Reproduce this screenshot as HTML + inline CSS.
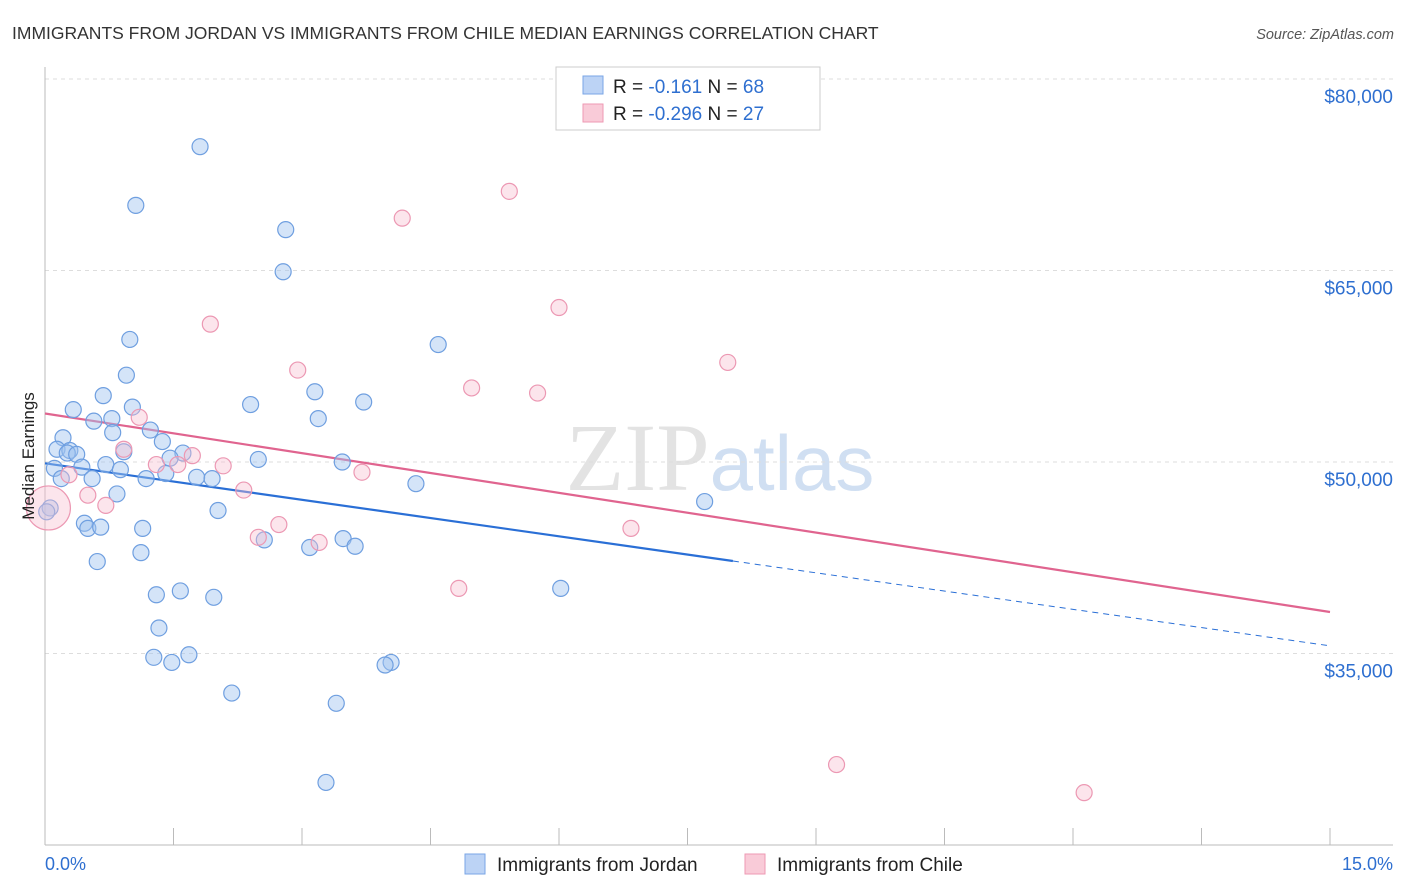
<!DOCTYPE html>
<html><head><meta charset="utf-8"><style>
body{margin:0;background:#fff;font-family:"Liberation Sans",sans-serif;}
</style></head><body>
<svg id="chart" width="1406" height="892" xmlns="http://www.w3.org/2000/svg" style="display:block">
<text x="12" y="39" font-size="17.5" fill="#333">IMMIGRANTS FROM JORDAN VS IMMIGRANTS FROM CHILE MEDIAN EARNINGS CORRELATION CHART</text>
<text x="1394" y="39" font-size="14.5" fill="#555" text-anchor="end" font-style="italic">Source: ZipAtlas.com</text>
<text x="720" y="490" font-size="96" text-anchor="middle" font-family="Liberation Serif, serif" fill="#ddd" opacity="0.8">ZIP<tspan fill="#c5d8f0" font-family="Liberation Sans, sans-serif" font-size="78">atlas</tspan></text>
<g id="grid"></g><g id="axes"></g><g id="lines"></g><g id="pts"></g>
<text transform="translate(34,456) rotate(-90)" font-size="17" fill="#222" text-anchor="middle">Median Earnings</text>
<g>
<rect x="556" y="67" width="264" height="63" fill="#fff" stroke="#ccc"/>
<rect x="583" y="76" width="20" height="18" fill="#bcd3f5" stroke="#7aa6e6"/>
<rect x="583" y="104" width="20" height="18" fill="#f9cbd8" stroke="#ee99b3"/>
<text x="613" y="93" font-size="19" fill="#222">R =  <tspan fill="#2e6fd0">-0.161</tspan>    N = <tspan fill="#2e6fd0">68</tspan></text>
<text x="613" y="120" font-size="19" fill="#222">R = <tspan fill="#2e6fd0">-0.296</tspan>    N = <tspan fill="#2e6fd0">27</tspan></text>
</g>
<g>
<rect x="465" y="854" width="20" height="20" fill="#bcd3f5" stroke="#7aa6e6"/>
<text x="497" y="871" font-size="19" fill="#222">Immigrants from Jordan</text>
<rect x="745" y="854" width="20" height="20" fill="#f9cbd8" stroke="#ee99b3"/>
<text x="777" y="871" font-size="19" fill="#222">Immigrants from Chile</text>
</g>
<text x="45" y="870" font-size="18" fill="#2e6fd0">0.0%</text>
<text x="1393" y="870" font-size="18" fill="#2e6fd0" text-anchor="end">15.0%</text>
</svg>
<script>
const yTicks=[35000,50000,65000,80000];
const yTickLabels=["$35,000","$50,000","$65,000","$80,000"];
const xTicks=[0,1.5,3,4.5,6,7.5,9,10.5,12,13.5,15];
const jordanX=[1.81,1.06,2.81,2.78,0.99,4.59,0.95,0.68,3.15,3.72,2.40,1.02,0.33,0.78,0.57,3.19,0.79,1.23,0.21,1.37,0.14,0.29,0.26,0.37,0.92,1.61,1.46,2.49,3.47,0.71,0.43,0.11,0.88,1.41,1.77,1.95,1.18,0.55,0.19,4.33,0.84,7.70,0.06,2.02,0.02,0.46,0.50,0.65,1.14,3.48,2.56,3.09,3.62,1.12,0.61,6.02,1.58,1.30,1.97,1.33,1.68,1.27,1.48,4.04,3.97,2.18,3.40,3.28];
const jordanY=[74700,70100,68200,64900,59600,59200,56800,55200,55500,54700,54500,54300,54100,53400,53200,53400,52300,52500,51900,51600,51000,50900,50700,50600,50800,50700,50300,50200,50000,49800,49600,49500,49400,49100,48800,48700,48700,48700,48700,48300,47500,46900,46400,46200,46100,45200,44800,44900,44800,44000,43900,43300,43400,42900,42200,40100,39900,39600,39400,37000,34900,34700,34300,34300,34100,31900,31100,24900];
const chileX=[5.42,4.17,6.00,1.93,7.97,2.95,4.98,5.75,1.10,0.92,1.72,1.30,1.55,2.08,3.70,0.28,2.32,0.50,0.71,2.73,2.49,3.20,6.84,4.83,9.24,12.13,0.04];
const chileY=[71200,69100,62100,60800,57800,57200,55800,55400,53500,51000,50500,49800,49800,49700,49200,49000,47800,47400,46600,45100,44100,43700,44800,40100,26300,24100,46400];
const chileR=[9,9,9,9,9,9,9,9,9,9,9,9,9,9,9,9,9,9,9,9,9,9,9,9,9,9,22];
const jordanTrend=[49900,35600];const jordanSolidEnd=8.03;
const chileTrend=[53800,38250];
const NS="http://www.w3.org/2000/svg";
const X=v=>45+v/15*1285, Y=v=>79+(80000-v)/15000*191.5;
function mk(p,t,a){const e=document.createElementNS(NS,t);for(const k in a)e.setAttribute(k,a[k]);document.getElementById(p).appendChild(e);return e;}
yTicks.forEach((t,i)=>{
 const g=mk('grid','line',{x1:45,x2:1393,y1:Y(t),y2:Y(t),stroke:'#ddd','stroke-dasharray':'4,4'});
 
 const l=mk('grid','text',{x:1393,y:Y(t)+24,'font-size':19,fill:'#2e6fd0','text-anchor':'end'});l.textContent=yTickLabels[i];
 
});
mk('axes','line',{x1:45,x2:45,y1:67,y2:845,stroke:'#bbb'});
mk('axes','line',{x1:45,x2:1393,y1:845,y2:845,stroke:'#bbb'});
xTicks.forEach(t=>{const e=mk('axes','line',{x1:X(t),x2:X(t),y1:828,y2:845,stroke:'#bbb'});
 });
const jy=x=>jordanTrend[0]+(jordanTrend[1]-jordanTrend[0])*x/15;
let e=mk('lines','line',{x1:X(0),y1:Y(jy(0)),x2:X(jordanSolidEnd),y2:Y(jy(jordanSolidEnd)),stroke:'#2a6fd6','stroke-width':2.2});

e=mk('lines','line',{x1:X(jordanSolidEnd),y1:Y(jy(jordanSolidEnd)),x2:X(15),y2:Y(jy(15)),stroke:'#2a6fd6','stroke-width':1,'stroke-dasharray':'6,5'});

e=mk('lines','line',{x1:X(0),y1:Y(chileTrend[0]),x2:X(15),y2:Y(chileTrend[1]),stroke:'#e0648f','stroke-width':2.2});

jordanX.forEach((x,i)=>{const c=mk('pts','circle',{cx:X(x),cy:Y(jordanY[i]),r:8,fill:'rgba(160,195,240,0.45)',stroke:'#6f9fe0','stroke-width':1.2});
 });
chileX.forEach((x,i)=>{const c=mk('pts','circle',{cx:X(x),cy:Y(chileY[i]),r:chileR[i]==22?22:8,fill:'rgba(248,190,208,0.4)',stroke:'#ec98b3','stroke-width':1.2});
 });
</script>
</body></html>
